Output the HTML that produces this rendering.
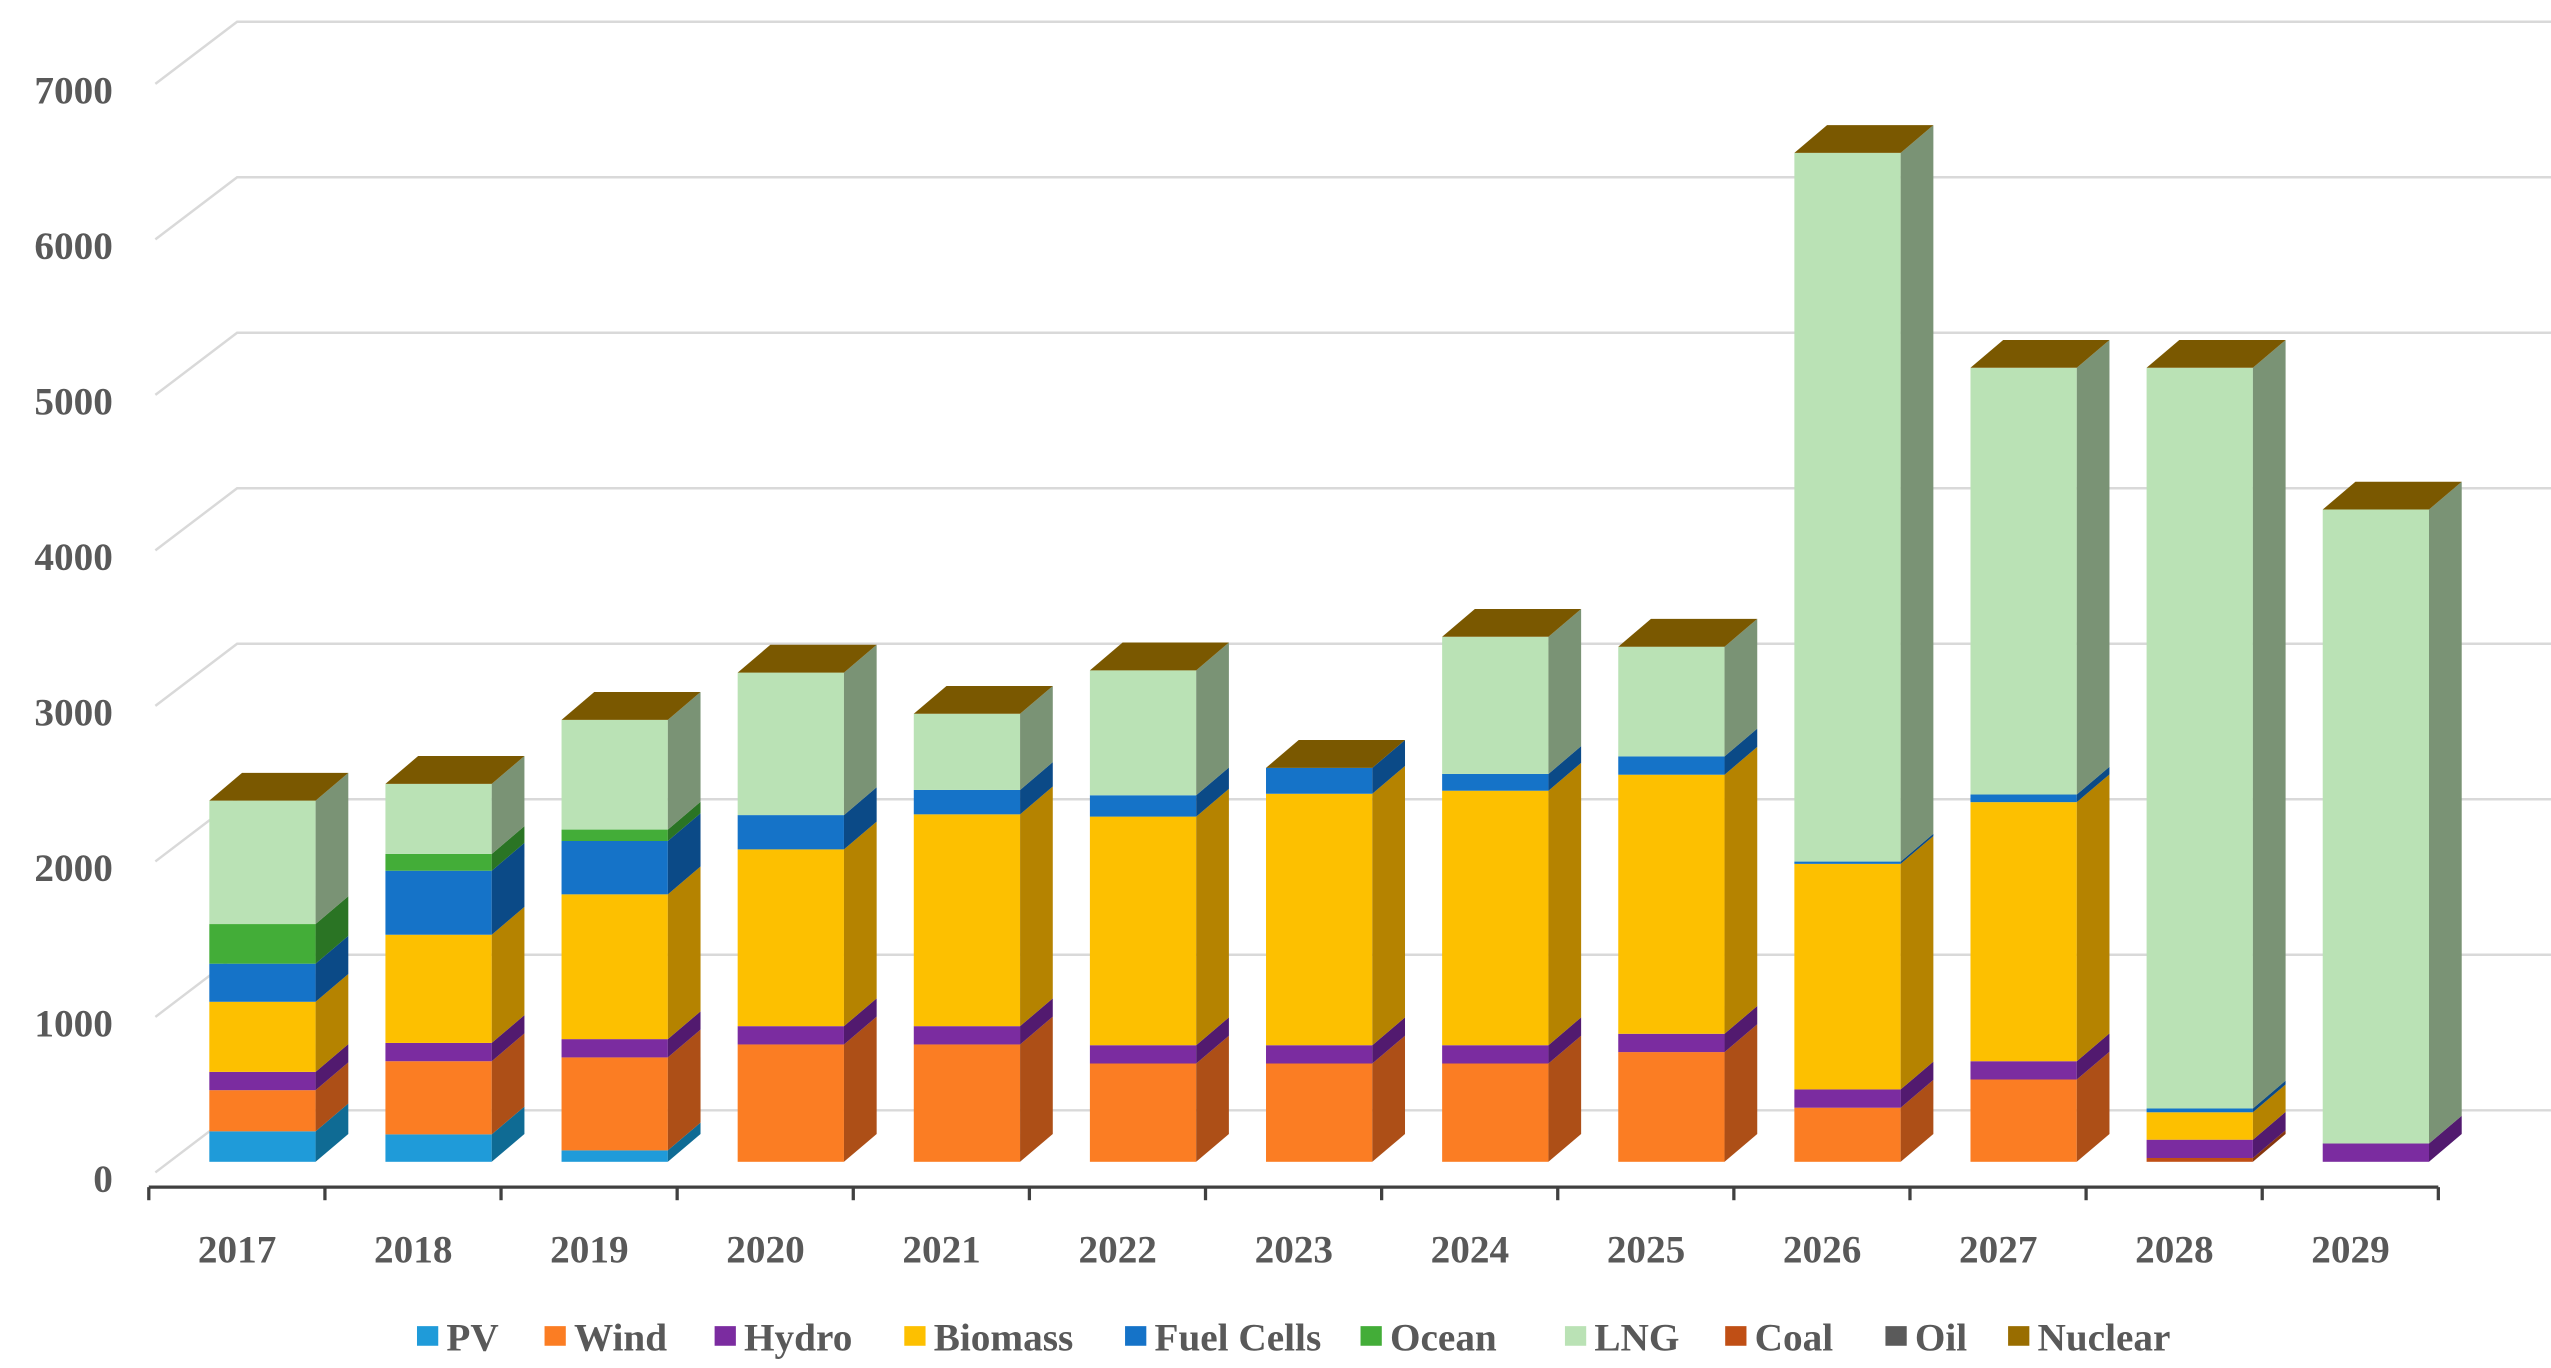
<!DOCTYPE html>
<html><head><meta charset="utf-8"><style>
html,body{margin:0;padding:0;background:#fff;}
svg{display:block;}
text{font-family:"Liberation Serif",serif;font-weight:bold;fill:#595959;}
</style></head><body>
<svg id="chart" width="2551" height="1368" viewBox="0 0 1560 836.6" preserveAspectRatio="none" xmlns="http://www.w3.org/2000/svg"></svg>
<script>
const categories=["2017","2018","2019","2020","2021","2022","2023","2024","2025","2026","2027","2028","2029"];
const seriesNames=["PV","Wind","Hydro","Biomass","Fuel Cells","Ocean","LNG","Coal","Oil","Nuclear"];
const pv=[200,180,75,0,0,0,0,0,0,0,0,0,0];
const wind=[270,480,610,770,770,645,645,645,720,355,540,0,0];
const coal=[0,0,0,0,0,0,0,0,0,0,0,25,0];
const hydro=[120,120,120,120,120,120,120,120,120,120,120,120,120];
const biomass=[460,710,950,1160,1390,1500,1650,1670,1700,1480,1700,180,0];
const fuel=[250,420,350,225,160,140,170,110,120,15,50,25,0];
const ocean=[260,110,75,0,0,0,0,0,0,0,0,0,0];
const lng=[810,460,720,935,500,820,0,900,720,4650,2800,4860,4160];
const oil=[0,0,0,0,0,0,0,0,0,0,0,0,0];
const nuclear=[0,0,0,0,0,0,0,0,0,0,0,0,0];
const yTicks=[0,1000,2000,3000,4000,5000,6000,7000];

const NS="http://www.w3.org/2000/svg";
const svg=document.getElementById('chart');
function el(tag,attrs,parent){const e=document.createElementNS(NS,tag);for(const k in attrs)e.setAttribute(k,attrs[k]);(parent||svg).appendChild(e);return e;}
const yFront=v=>710.5-v*0.0932;
const yBack=v=>679-v*0.0951;
const xCat=i=>91+107.7*i;
const DX=20,DY=17,BW=65;

yTicks.forEach((t,i)=>{
  const yb=yBack(t);
  const g=el('polyline',{points:`95,${yb+38} 145,${yb} 1560,${yb}`,fill:'none',stroke:'#d9d9d9','stroke-width':1.5});
  
  
  const tx=el('text',{x:69,y:yb+50,'text-anchor':'end','font-size':24});
  tx.textContent=t;
  
  
});
const ax=el('line',{x1:91,y1:726,x2:xCat(13),y2:726,stroke:'#404040','stroke-width':2});


for(let i=0;i<=categories.length;i++){
  const tk=el('line',{x1:xCat(i),y1:726,x2:xCat(i),y2:734,stroke:'#404040','stroke-width':2});
  
  
}
categories.forEach((c,i)=>{
  const t=el('text',{x:xCat(i)+54,y:772,'text-anchor':'middle','font-size':24});
  t.textContent=c;
  
  
});

const stack=[["PV",pv,'#1f9bd9','#0f6b94'],["Wind",wind,'#fb7d23','#ad4f17'],["Coal",coal,'#c04f15','#86360d'],["Hydro",hydro,'#7b2ca0','#521a6f'],["Biomass",biomass,'#fdc000','#b58300'],["Fuel Cells",fuel,'#1573c8','#0b4a87'],["Ocean",ocean,'#43ad38','#2a7424'],["LNG",lng,'#bae2b5','#7a9375'],["Oil",oil,'#5a5a5a','#3a3a3a'],["Nuclear",nuclear,'#996d00','#6b4c00']];
categories.forEach((c,i)=>{
  const g=el('g',{});
  
  
  const x=xCat(i)+37;
  let cum=0;
  stack.forEach(([name,arr,col,side])=>{
    const v=arr[i]; if(!v) return;
    const y0=yFront(cum),y1=yFront(cum+v);
    const r=el('rect',{x:x,y:y1,width:BW,height:y0-y1,fill:col},g);
    
    
    const s=el('polygon',{points:`${x+BW},${y0} ${x+BW+DX},${y0-DY} ${x+BW+DX},${y1-DY} ${x+BW},${y1}`,fill:side},g);
    
    
    cum+=v;
  });
  const yt=yFront(cum);
  const top=el('polygon',{points:`${x},${yt} ${x+DX},${yt-DY} ${x+BW+DX},${yt-DY} ${x+BW},${yt}`,fill:'#7a5800'},g);
  
  
});

const legCols=['#1f9bd9','#fb7d23','#7b2ca0','#fdc000','#1573c8','#43ad38','#bae2b5','#c04f15','#5a5a5a','#996d00'];
const legX=[255,333,437,553,688,832,957,1055,1153,1228];
const lg=el('g',{});


seriesNames.forEach((n,i)=>{
  const g=el('g',{},lg);
  
  
  el('rect',{x:legX[i],y:811,width:13,height:12,fill:legCols[i]},g);
  const t=el('text',{x:legX[i]+18,y:826,'font-size':24},g);
  t.textContent=n;
});
</script>
</body></html>
